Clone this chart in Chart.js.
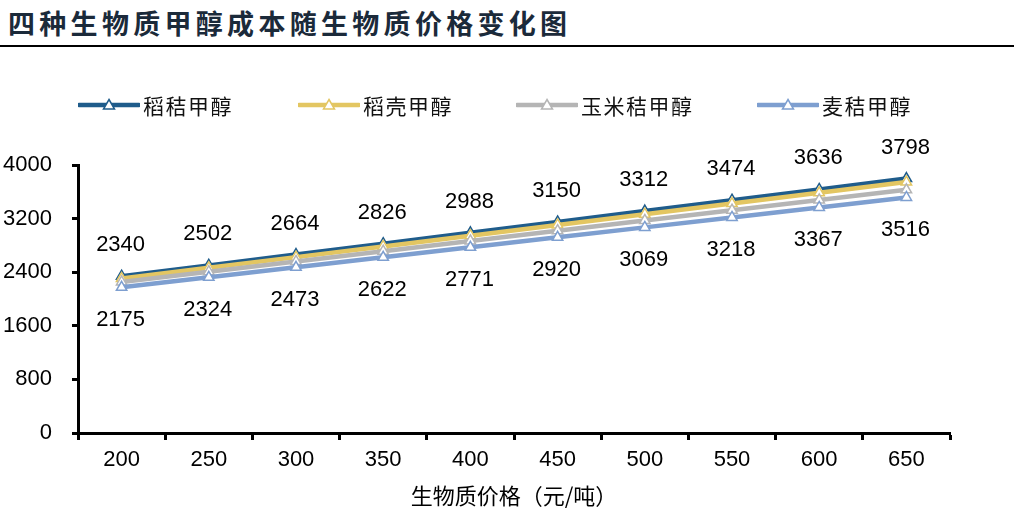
<!DOCTYPE html>
<html><head><meta charset="utf-8">
<script src="https://cdn.jsdelivr.net/npm/chart.js@4.4.0/dist/chart.umd.min.js"></script>
<style>
html,body{margin:0;padding:0;background:#fff;width:1014px;height:524px;overflow:hidden;}
#wrap{position:relative;width:1014px;height:524px;}
#title{position:absolute;left:8px;top:4px;font-family:"Noto Sans CJK SC";font-weight:700;font-size:27px;letter-spacing:4.3px;color:#1b2a3a;line-height:38px;white-space:nowrap;}
#rule{position:absolute;left:0;top:45px;width:1014px;height:2px;background:#000;}
#chart{position:absolute;left:0;top:0;}
.lg{position:absolute;top:92px;height:26px;display:flex;align-items:center;font-family:"Noto Sans CJK SC";font-size:21px;letter-spacing:1.5px;color:#111;white-space:nowrap;}
.lg svg{margin-right:3px;}
</style></head>
<body><div id="wrap"><div id="title">四种生物质甲醇成本随生物质价格变化图</div><div id="rule"></div><canvas id="chart" width="1014" height="524"></canvas><div id="legend"></div></div>
<script>
const categories = ['200','250','300','350','400','450','500','550','600','650'];
const strawMethanol = [2340,2502,2664,2826,2988,3150,3312,3474,3636,3798];
const huskMethanol = [2305,2465,2625,2785,2945,3105,3265,3425,3585,3745];
const cornMethanol = [2255,2408,2561,2714,2867,3020,3172,3325,3478,3630];
const wheatMethanol = [2175,2324,2473,2622,2771,2920,3069,3218,3367,3516];
const seriesNames = ['稻秸甲醇','稻壳甲醇','玉米秸甲醇','麦秸甲醇'];
const seriesColors = ['#1F5C8B','#E3C662','#B5B5B5','#7E9FD0'];
const yTicks = [0,800,1600,2400,3200,4000];
const xTitle = '生物质价格（元/吨）';

const seriesData = [strawMethanol, huskMethanol, cornMethanol, wheatMethanol];

// legend (HTML)
const legendLefts = [78, 298, 516, 757];
const legendEl = document.getElementById('legend');
seriesNames.forEach((name,i)=>{
  const d = document.createElement('div');
  d.className='lg';
  d.style.left = legendLefts[i]+'px';
  const c = seriesColors[i];
  d.innerHTML = '<svg width="62" height="16" viewBox="0 0 62 16"><line x1="1" y1="8" x2="61" y2="8" stroke="'+c+'" stroke-width="4.5" stroke-linecap="round"/><polygon points="31,2.5 36.5,12 25.5,12" fill="#fff" stroke="'+c+'" stroke-width="1.5"/></svg><span>'+name+'</span>';
  legendEl.appendChild(d);
});

const valueLabels = {
  id:'valueLabels',
  afterDatasetsDraw(chart){
    const ctx = chart.ctx;
    ctx.save();
    ctx.font = '22px "Liberation Sans", Arial, sans-serif';
    ctx.fillStyle = '#000';
    ctx.textAlign='center'; ctx.textBaseline='middle';
    [[0,-31],[3,33]].forEach(([di,off])=>{
      const meta = chart.getDatasetMeta(di);
      meta.data.forEach((pt,i)=>{
        ctx.fillText(String(chart.data.datasets[di].data[i]), pt.x - 1, pt.y+off);
      });
    });
    ctx.restore();
  }
};

Chart.defaults.font.family = '"Liberation Sans", Arial, sans-serif';
Chart.defaults.color = '#000';

new Chart(document.getElementById('chart'), {
  type:'line',
  data:{
    labels: categories,
    datasets: seriesData.map((d,i)=>({
      label: seriesNames[i],
      data: d,
      borderColor: seriesColors[i],
      backgroundColor: '#fff',
      borderWidth: 4.5,
      pointStyle: 'triangle',
      pointRadius: 6,
      pointBorderWidth: 1.5,
      pointBorderColor: seriesColors[i],
      pointBackgroundColor: '#fff',
      tension: 0,
      fill: false,
      order: 4 - i
    }))
  },
  options:{
    responsive:false,
    animation:false,
    layout:{padding:{top:165,right:64,left:0,bottom:0}},
    plugins:{legend:{display:false},tooltip:{enabled:false}},
    scales:{
      x:{
        type:'category',
        offset:true,
        grid:{display:true,drawOnChartArea:false,offset:true,tickLength:7,tickWidth:3,tickColor:'#000'},
        border:{display:true,color:'#000',width:3},
        ticks:{font:{size:22},color:'#000',padding:7,maxRotation:0,autoSkip:false},
        title:{display:true,text:xTitle,color:'#000',font:{family:'"Noto Sans CJK SC"',size:22},padding:{top:0,bottom:15}},
        afterFit(s){ s.height = 91; }
      },
      y:{
        min:0,max:4000,
        afterBuildTicks(s){ s.ticks = yTicks.map(v=>({value:v})); },
        grid:{display:true,drawOnChartArea:false,tickLength:6,tickWidth:3,tickColor:'#000'},
        border:{display:true,color:'#000',width:3},
        ticks:{font:{size:22},color:'#000',padding:20,callback:(v)=>String(v)},
        afterFit(s){ s.width = 78; }
      }
    }
  },
  plugins:[valueLabels]
});
</script>
</body></html>
